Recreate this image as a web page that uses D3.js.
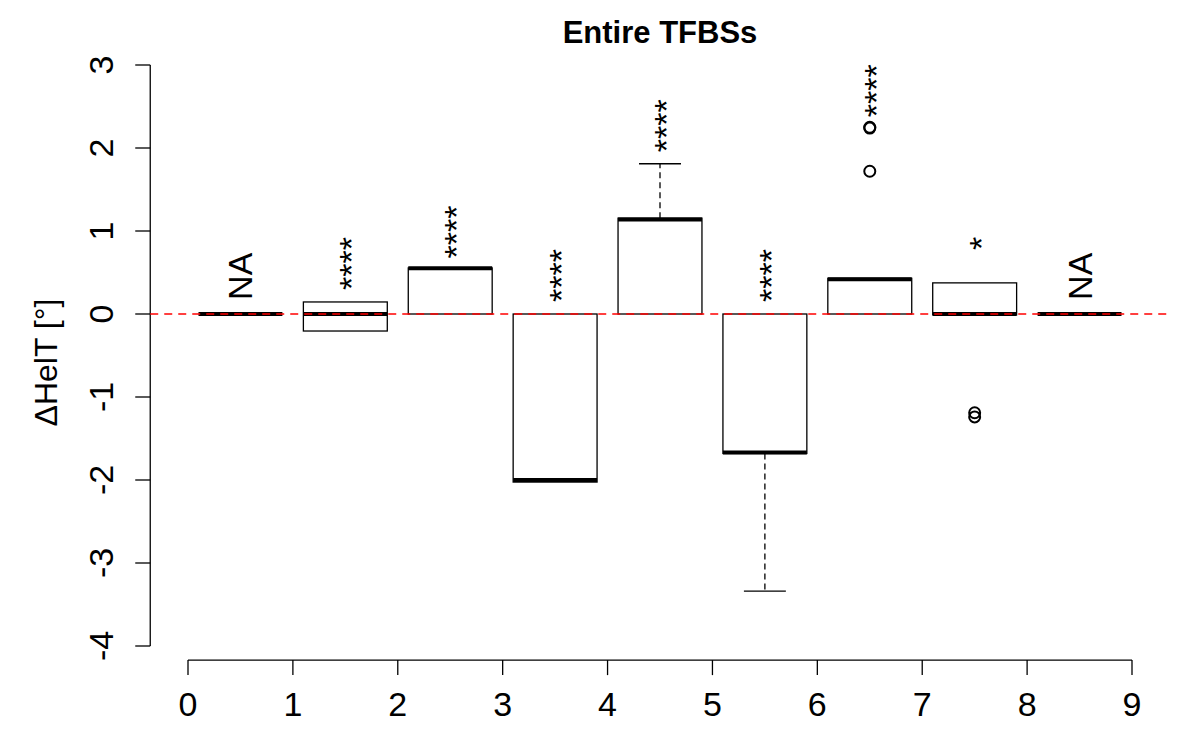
<!DOCTYPE html>
<html>
<head>
<meta charset="utf-8">
<script src="https://cdn.jsdelivr.net/npm/d3@7"></script>
<style>
  body { margin: 0; background: #fff; }
  text { font-family: "Liberation Sans", Arial, sans-serif; }
</style>
</head>
<body>
<svg id="chart" width="1200" height="750"></svg>
<script>
// box statistics, one entry per group
var categories = [0.5, 1.5, 2.5, 3.5, 4.5, 5.5, 6.5, 7.5, 8.5];
var whiskerLow  = [0, -0.205, 0, -2.025, 0, -3.34, 0, 0, 0];
var q1          = [0, -0.205, 0, -2.025, 0, -1.68, 0, -0.01, 0];
var medians     = [0, 0, 0.55, -2.0, 1.14, -1.67, 0.42, 0, 0];
var q3          = [0, 0.145, 0.555, 0, 1.155, 0, 0.43, 0.375, 0];
var whiskerHigh = [0, 0.145, 0.555, 0, 1.81, 0, 0.43, 0.375, 0];
var outliers    = [[], [], [], [], [], [], [1.72, 2.24, 2.25], [-1.19, -1.24], []];
var sigLabels   = ["NA", "****", "****", "****", "****", "****", "****", "*", "NA"];
var sigAt       = [0.17, 0.29, 0.67, 0.145, 1.95, 0.145, 2.37, 0.77, 0.17];
var xTicks = [0, 1, 2, 3, 4, 5, 6, 7, 8, 9];
var yTicks = [3, 2, 1, 0, -1, -2, -3, -4];

var svg = d3.select("#chart");

// set the ranges
var x = d3.scaleLinear().domain([0, 9]).range([188, 1132]);
var y = d3.scaleLinear().domain([-4, 3]).range([646, 65]);

var xLeft = x(-0.36), xRight = x(9.36);
var yBottom = y(-4.17);
var boxHalf = 0.4, capHalf = 0.2;

// title
svg.append("text")
  .attr("x", (xLeft + xRight) / 2)
  .attr("y", 43)
  .attr("text-anchor", "middle")
  .style("font-weight", "bold")
  .style("font-size", "31px")
  .text("Entire TFBSs");

// y axis
var yAxis = svg.append("g").attr("transform", "translate(" + xLeft + ",0)");
yAxis.append("line")
  .attr("y1", y(3)).attr("y2", y(-4))
  .attr("stroke", "#000").attr("stroke-width", 1.3);
yAxis.selectAll(".tick").data(yTicks).enter().append("line")
  .attr("x1", 0).attr("x2", -15)
  .attr("y1", function (d) { return y(d); })
  .attr("y2", function (d) { return y(d); })
  .attr("stroke", "#000").attr("stroke-width", 1.3);
yAxis.selectAll(".lab").data(yTicks).enter().append("text")
  .attr("transform", function (d) { return "translate(-37," + y(d) + ") rotate(-90)"; })
  .attr("text-anchor", "middle")
  .style("font-size", "34px")
  .text(function (d) { return d; });

// y label
svg.append("text")
  .attr("transform", "translate(57," + ((y(3) + yBottom) / 2) + ") rotate(-90)")
  .attr("text-anchor", "middle")
  .style("font-size", "32px")
  .text("\u0394HelT [\u00b0]");

// x axis
var xAxis = svg.append("g").attr("transform", "translate(0," + yBottom + ")");
xAxis.append("line")
  .attr("x1", x(0)).attr("x2", x(9))
  .attr("stroke", "#000").attr("stroke-width", 1.3);
xAxis.selectAll(".tick").data(xTicks).enter().append("line")
  .attr("x1", function (d) { return x(d); })
  .attr("x2", function (d) { return x(d); })
  .attr("y1", 0).attr("y2", 15)
  .attr("stroke", "#000").attr("stroke-width", 1.3);
xAxis.selectAll(".lab").data(xTicks).enter().append("text")
  .attr("x", function (d) { return x(d); })
  .attr("y", 56)
  .attr("text-anchor", "middle")
  .style("font-size", "34px")
  .text(function (d) { return d; });

// boxes
var g = svg.append("g");
categories.forEach(function (c, i) {
  var cx = x(c);
  // whiskers
  [[q3[i], whiskerHigh[i]], [q1[i], whiskerLow[i]]].forEach(function (w) {
    if (w[0] === w[1]) return;
    g.append("line")
      .attr("x1", cx).attr("x2", cx)
      .attr("y1", y(w[0])).attr("y2", y(w[1]))
      .attr("stroke", "#000").attr("stroke-width", 1.3)
      .attr("stroke-dasharray", "6,4");
    g.append("line")
      .attr("x1", x(c - capHalf)).attr("x2", x(c + capHalf))
      .attr("y1", y(w[1])).attr("y2", y(w[1]))
      .attr("stroke", "#000").attr("stroke-width", 1.3);
  });
  // box
  g.append("rect")
    .attr("x", x(c - boxHalf))
    .attr("width", x(c + boxHalf) - x(c - boxHalf))
    .attr("y", y(q3[i]))
    .attr("height", Math.max(0, y(q1[i]) - y(q3[i])))
    .attr("fill", "#fff")
    .attr("stroke", "#000").attr("stroke-width", 1.3);
  // median
  g.append("line")
    .attr("x1", x(c - boxHalf)).attr("x2", x(c + boxHalf))
    .attr("y1", y(medians[i])).attr("y2", y(medians[i]))
    .attr("stroke", "#000").attr("stroke-width", 4);
  // outliers
  g.selectAll(null).data(outliers[i]).enter().append("circle")
    .attr("cx", cx)
    .attr("cy", function (d) { return y(d); })
    .attr("r", 5.5)
    .attr("fill", "none")
    .attr("stroke", "#000").attr("stroke-width", 2);
  // significance label
  var isNA = sigLabels[i] === "NA";
  var shift = isNA ? 12 : 18;
  g.append("text")
    .attr("transform", "translate(" + (cx + shift) + "," + y(sigAt[i]) + ") rotate(-90)")
    .attr("text-anchor", "start")
    .style("font-size", isNA ? "34px" : "34px")
    .text(sigLabels[i]);
});

// reference line at zero
svg.append("line")
  .attr("x1", xLeft).attr("x2", xRight)
  .attr("y1", y(0)).attr("y2", y(0))
  .attr("stroke", "#ff0000").attr("stroke-width", 1.3)
  .attr("stroke-dasharray", "8,6");
</script>
</body>
</html>
